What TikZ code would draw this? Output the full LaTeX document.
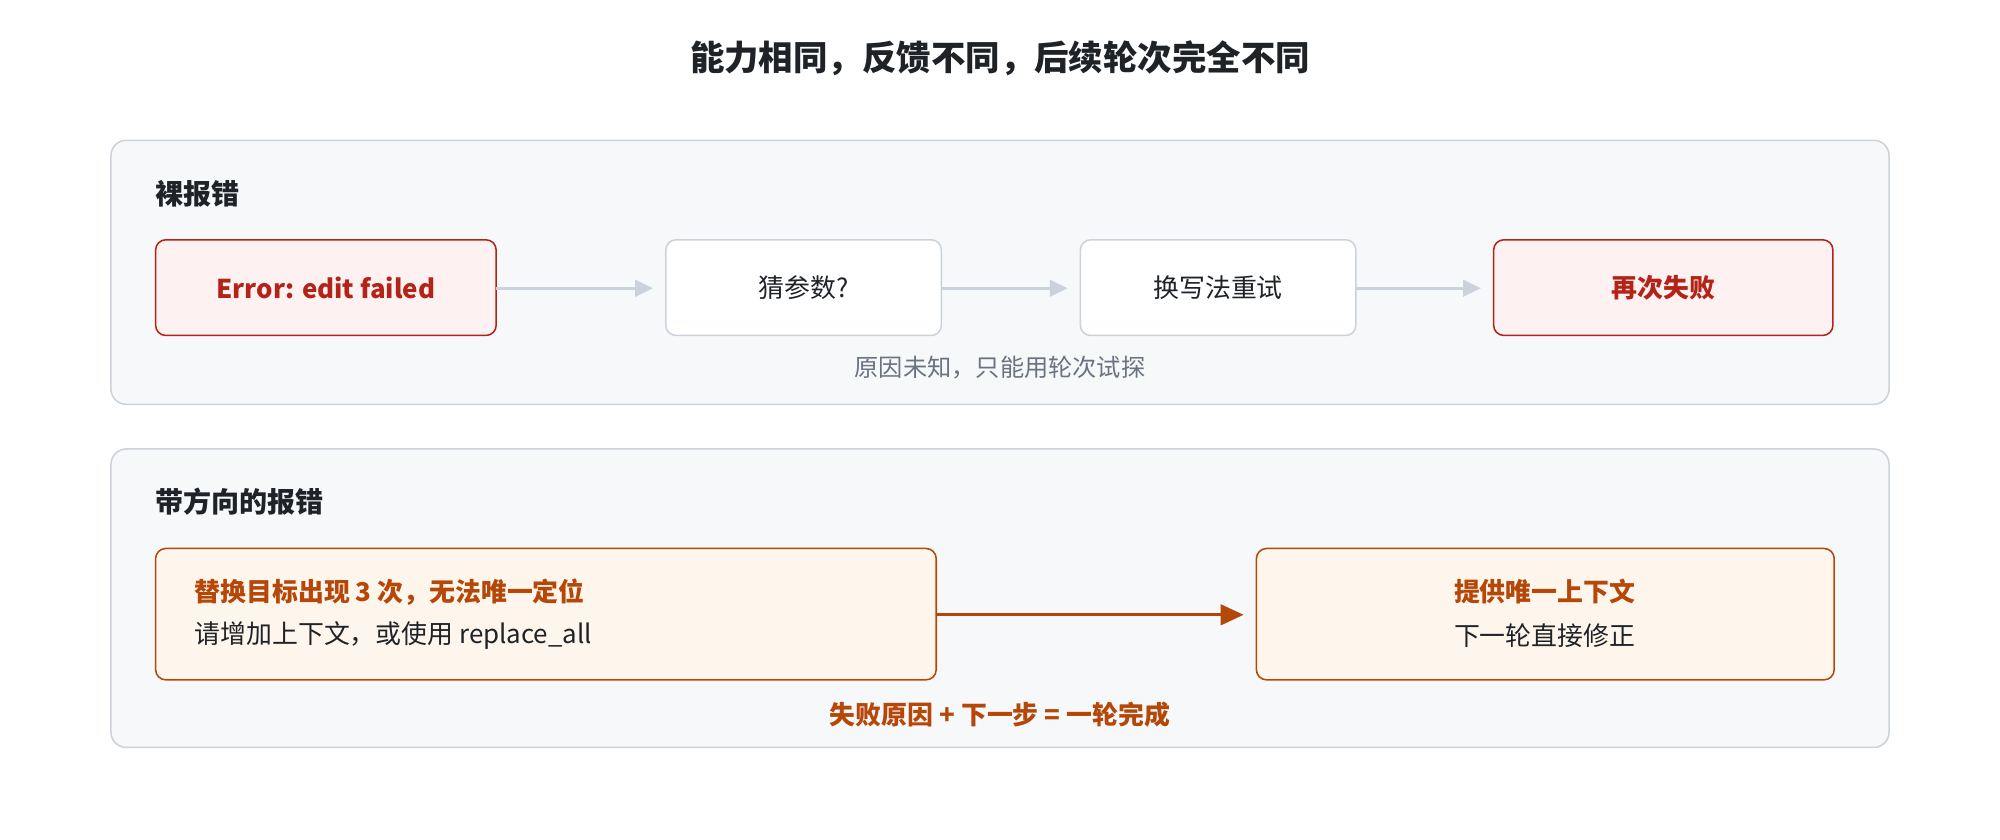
\documentclass[tikz,border=0pt]{standalone}
\usepackage{fontspec}
\setmainfont{Noto Sans CJK SC}
\usetikzlibrary{arrows.meta}
\definecolor{panelbg}{HTML}{F7F8FA}
\definecolor{panelln}{HTML}{CBD2DC}
\definecolor{redln}{HTML}{B42318}
\definecolor{redbg}{HTML}{FDF2F1}
\definecolor{orln}{HTML}{B54708}
\definecolor{orbg}{HTML}{FEF6EC}
\definecolor{ink}{HTML}{1F2328}
\definecolor{mute}{HTML}{6B7280}
\begin{document}
\begin{tikzpicture}[x=1pt,y=-1pt,
  panel/.style={draw=panelln,fill=panelbg,line width=1.2pt,rounded corners=12pt},
  box/.style={draw=panelln,fill=white,line width=1.2pt,rounded corners=8pt},
  rbox/.style={draw=redln,fill=redbg,line width=1.2pt,rounded corners=8pt},
  obox/.style={draw=orln,fill=orbg,line width=1.2pt,rounded corners=8pt},
  txt/.style={font=\fontsize{20.3}{24}\selectfont,text=ink},
  btxt/.style={font=\fontsize{20.3}{24}\selectfont\bfseries},
  hd/.style={font=\fontsize{22}{26}\selectfont\bfseries,text=ink,anchor=west},
  garr/.style={draw=panelln,line width=2pt,-{Triangle[length=14pt,width=13pt]}},
  oarr/.style={draw=orln,line width=2.5pt,-{Triangle[length=18pt,width=16pt]}}]
\useasboundingbox (0,0) rectangle (1568,658);
\node[font=\fontsize{27}{31}\selectfont\bfseries,text=ink] (title) at (784,46) {能力相同，反馈不同，后续轮次完全不同};
% panel 1
\draw[panel] (87,110) rectangle (1481,317);
\node[hd] (h1) at (118,152) {裸报错};
\draw[rbox] (122,188) rectangle (389,263);
\node[btxt,text=redln] (a) at (255.5,225.5) {Error: edit failed};
\coordinate (aR) at (389,226);
\draw[box] (522,188) rectangle (738,263);
\node[txt] (b) at (630,225.5) {猜参数?};
\coordinate (bL) at (522,226); \coordinate (bR) at (738,226);
\draw[box] (847,188) rectangle (1063,263);
\node[txt] (c) at (955,225.5) {换写法重试};
\coordinate (cL) at (847,226); \coordinate (cR) at (1063,226);
\draw[rbox] (1171,188) rectangle (1437,263);
\node[btxt,text=redln] (d) at (1304,225.5) {再次失败};
\coordinate (dL) at (1171,226);
\draw[garr] (aR) -- ([xshift=-10]bL);
\draw[garr] (bR) -- ([xshift=-10]cL);
\draw[garr] (cR) -- ([xshift=-10]dL);
\node[txt,text=mute,font=\fontsize{19}{23}\selectfont] (cap1) at (784,288) {原因未知，只能用轮次试探};
% panel 2
\draw[panel] (87,352) rectangle (1481,586);
\node[hd] (h2) at (118,393) {带方向的报错};
\draw[obox] (122,430) rectangle (734,533);
\node[btxt,text=orln,anchor=west] (e1) at (149,464) {替换目标出现 3 次，无法唯一定位};
\node[txt,anchor=west] (e2) at (149,498) {请增加上下文，或使用 replace\_all};
\coordinate (eR) at (734,482);
\draw[obox] (985,430) rectangle (1438,533);
\node[btxt,text=orln] (f1) at (1211,464) {提供唯一上下文};
\node[txt] (f2) at (1211,498) {下一轮直接修正};
\coordinate (fL) at (985,482);
\draw[oarr] (eR) -- ([xshift=-10]fL);
\node[btxt,text=orln] (cap2) at (784,560) {失败原因 + 下一步 = 一轮完成};
\end{tikzpicture}
\end{document}
